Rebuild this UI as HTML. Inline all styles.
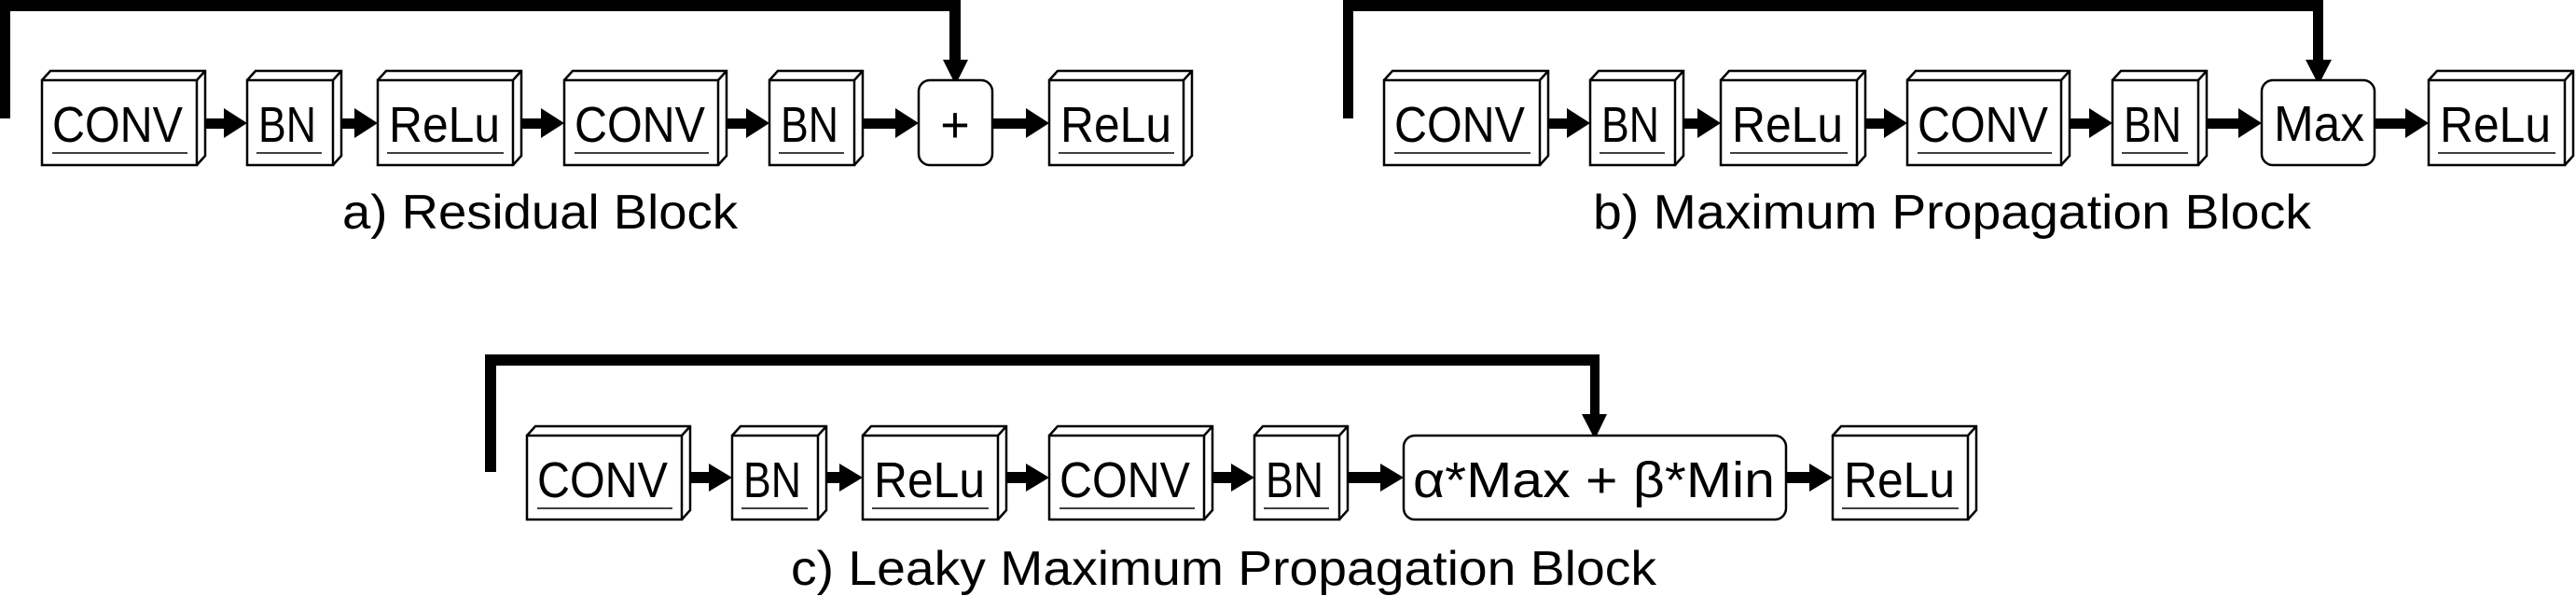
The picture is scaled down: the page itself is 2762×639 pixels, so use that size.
<!DOCTYPE html>
<html><head><meta charset="utf-8"><style>
html,body{margin:0;padding:0;background:#fff;}
svg{display:block;}
text{font-family:"Liberation Sans",sans-serif;fill:#000;}
</style></head><body>
<svg width="2762" height="639" viewBox="0 0 2762 639" xmlns="http://www.w3.org/2000/svg">
<defs>
<g id="none"></g>
</defs>
<g fill="#000">
<!-- skip a -->
<rect x="0" y="0" width="11" height="127"/>
<rect x="0" y="0" width="1030" height="12"/>
<rect x="1018" y="0" width="12" height="66"/>
<polygon points="1011,64 1038,64 1024.5,91"/>
<!-- skip b -->
<rect x="1440" y="0" width="11" height="127"/>
<rect x="1440" y="0" width="1051" height="12"/>
<rect x="2480" y="0" width="11" height="66"/>
<polygon points="2472,64 2500,64 2486,91"/>
<!-- skip c -->
<rect x="520" y="380" width="12" height="126"/>
<rect x="520" y="380" width="1195" height="12"/>
<rect x="1705" y="380" width="10" height="66"/>
<polygon points="1696,444 1723,444 1710,471"/>
</g>
<g fill="#000">
<!-- arrows row a, center 132 -->
<rect x="220" y="127" width="21" height="11"/><polygon points="240,116 265,132 240,148"/>
<rect x="366" y="127" width="15" height="11"/><polygon points="380,116 405,132 380,148"/>
<rect x="559" y="127" width="22" height="11"/><polygon points="580,116 605,132 580,148"/>
<rect x="779" y="127" width="22" height="11"/><polygon points="800,116 825,132 800,148"/>
<rect x="925" y="127" width="36" height="11"/><polygon points="960,116 985,132 960,148"/>
<rect x="1064" y="127" width="37" height="11"/><polygon points="1100,116 1125,132 1100,148"/>
<!-- row b -->
<rect x="1660" y="127" width="21" height="11"/><polygon points="1680,116 1705,132 1680,148"/>
<rect x="1805" y="127" width="16" height="11"/><polygon points="1820,116 1845,132 1820,148"/>
<rect x="2000" y="127" width="21" height="11"/><polygon points="2020,116 2045,132 2020,148"/>
<rect x="2219" y="127" width="22" height="11"/><polygon points="2240,116 2265,132 2240,148"/>
<rect x="2366" y="127" width="35" height="11"/><polygon points="2400,116 2425,132 2400,148"/>
<rect x="2546" y="127" width="34" height="11"/><polygon points="2579,116 2604,132 2579,148"/>
<!-- row c, center 512 -->
<rect x="740" y="506" width="21" height="12"/><polygon points="760,497 785,512 760,527"/>
<rect x="886" y="506" width="15" height="12"/><polygon points="900,497 925,512 900,527"/>
<rect x="1079" y="506" width="22" height="12"/><polygon points="1100,497 1125,512 1100,527"/>
<rect x="1300" y="506" width="21" height="12"/><polygon points="1320,497 1345,512 1320,527"/>
<rect x="1445" y="506" width="36" height="12"/><polygon points="1480,497 1505,512 1480,527"/>
<rect x="1915" y="506" width="26" height="12"/><polygon points="1940,497 1965,512 1940,527"/>
</g>
<g fill="#fff" stroke="#000" stroke-width="2.5" stroke-linejoin="miter">
<!-- row a boxes: y 86..177 -->
<path d="M45,86 L54,76 L220,76 L220,167 L211,177 M211,86 L220,76"/><rect x="45" y="86" width="166" height="91"/>
<path d="M265,86 L274,76 L366,76 L366,167 L357,177 M357,86 L366,76"/><rect x="265" y="86" width="92" height="91"/>
<path d="M405,86 L414,76 L559,76 L559,167 L550,177 M550,86 L559,76"/><rect x="405" y="86" width="145" height="91"/>
<path d="M605,86 L614,76 L779,76 L779,167 L770,177 M770,86 L779,76"/><rect x="605" y="86" width="165" height="91"/>
<path d="M825,86 L834,76 L925,76 L925,167 L916,177 M916,86 L925,76"/><rect x="825" y="86" width="91" height="91"/>
<rect x="985" y="86" width="79" height="91" rx="12"/>
<path d="M1125,86 L1134,76 L1278,76 L1278,167 L1269,177 M1269,86 L1278,76"/><rect x="1125" y="86" width="144" height="91"/>
<!-- row b -->
<path d="M1484,86 L1493,76 L1660,76 L1660,167 L1651,177 M1651,86 L1660,76"/><rect x="1484" y="86" width="167" height="91"/>
<path d="M1705,86 L1714,76 L1805,76 L1805,167 L1796,177 M1796,86 L1805,76"/><rect x="1705" y="86" width="91" height="91"/>
<path d="M1845,86 L1854,76 L2000,76 L2000,167 L1991,177 M1991,86 L2000,76"/><rect x="1845" y="86" width="146" height="91"/>
<path d="M2045,86 L2054,76 L2219,76 L2219,167 L2210,177 M2210,86 L2219,76"/><rect x="2045" y="86" width="165" height="91"/>
<path d="M2265,86 L2274,76 L2366,76 L2366,167 L2357,177 M2357,86 L2366,76"/><rect x="2265" y="86" width="92" height="91"/>
<rect x="2425" y="86" width="121" height="91" rx="12"/>
<path d="M2604,86 L2613,76 L2759,76 L2759,167 L2750,177 M2750,86 L2759,76"/><rect x="2604" y="86" width="146" height="91"/>
<!-- row c: y 467..557 -->
<path d="M565,467 L574,457 L740,457 L740,547 L731,557 M731,467 L740,457"/><rect x="565" y="467" width="166" height="90"/>
<path d="M785,467 L794,457 L886,457 L886,547 L877,557 M877,467 L886,457"/><rect x="785" y="467" width="92" height="90"/>
<path d="M925,467 L934,457 L1079,457 L1079,547 L1070,557 M1070,467 L1079,457"/><rect x="925" y="467" width="145" height="90"/>
<path d="M1125,467 L1134,457 L1300,457 L1300,547 L1291,557 M1291,467 L1300,457"/><rect x="1125" y="467" width="166" height="90"/>
<path d="M1345,467 L1354,457 L1445,457 L1445,547 L1436,557 M1436,467 L1445,457"/><rect x="1345" y="467" width="91" height="90"/>
<rect x="1505" y="467" width="410" height="90" rx="12"/>
<path d="M1965,467 L1974,457 L2119,457 L2119,547 L2110,557 M2110,467 L2119,457"/><rect x="1965" y="467" width="145" height="90"/>
</g>
<g stroke="#000" stroke-width="1.5">
<line x1="56" y1="164" x2="201" y2="164"/><line x1="275" y1="164" x2="345" y2="164"/><line x1="415" y1="164" x2="540" y2="164"/>
<line x1="616" y1="164" x2="760" y2="164"/><line x1="835" y1="164" x2="905" y2="164"/><line x1="1135" y1="164" x2="1259" y2="164"/>
<line x1="1495" y1="164" x2="1641" y2="164"/><line x1="1715" y1="164" x2="1785" y2="164"/><line x1="1855" y1="164" x2="1981" y2="164"/>
<line x1="2056" y1="164" x2="2200" y2="164"/><line x1="2275" y1="164" x2="2346" y2="164"/><line x1="2614" y1="164" x2="2740" y2="164"/>
<line x1="576" y1="545" x2="721" y2="545"/><line x1="795" y1="545" x2="866" y2="545"/><line x1="935" y1="545" x2="1060" y2="545"/>
<line x1="1136" y1="545" x2="1281" y2="545"/><line x1="1355" y1="545" x2="1425" y2="545"/><line x1="1975" y1="545" x2="2100" y2="545"/>
</g>
<g font-size="54" lengthAdjust="spacingAndGlyphs">
<text x="56" y="152" textLength="140" lengthAdjust="spacingAndGlyphs">CONV</text>
<text x="277" y="152" textLength="62" lengthAdjust="spacingAndGlyphs">BN</text>
<text x="417" y="152" textLength="119" lengthAdjust="spacingAndGlyphs">ReLu</text>
<text x="616" y="152" textLength="140" lengthAdjust="spacingAndGlyphs">CONV</text>
<text x="837" y="152" textLength="62" lengthAdjust="spacingAndGlyphs">BN</text>
<text x="1024" y="152" text-anchor="middle">+</text>
<text x="1137" y="152" textLength="119" lengthAdjust="spacingAndGlyphs">ReLu</text>
<text x="1495" y="152" textLength="140" lengthAdjust="spacingAndGlyphs">CONV</text>
<text x="1717" y="152" textLength="62" lengthAdjust="spacingAndGlyphs">BN</text>
<text x="1857" y="152" textLength="119" lengthAdjust="spacingAndGlyphs">ReLu</text>
<text x="2056" y="152" textLength="140" lengthAdjust="spacingAndGlyphs">CONV</text>
<text x="2277" y="152" textLength="62" lengthAdjust="spacingAndGlyphs">BN</text>
<text x="2438" y="151" textLength="97" lengthAdjust="spacingAndGlyphs">Max</text>
<text x="2616" y="152" textLength="119" lengthAdjust="spacingAndGlyphs">ReLu</text>
<text x="576" y="533" textLength="140" lengthAdjust="spacingAndGlyphs">CONV</text>
<text x="797" y="533" textLength="62" lengthAdjust="spacingAndGlyphs">BN</text>
<text x="937" y="533" textLength="119" lengthAdjust="spacingAndGlyphs">ReLu</text>
<text x="1136" y="533" textLength="140" lengthAdjust="spacingAndGlyphs">CONV</text>
<text x="1357" y="533" textLength="62" lengthAdjust="spacingAndGlyphs">BN</text>
<text x="1515" y="533" textLength="388" lengthAdjust="spacingAndGlyphs">α*Max + β*Min</text>
<text x="1977" y="533" textLength="119" lengthAdjust="spacingAndGlyphs">ReLu</text>
</g>
<g font-size="52">
<text x="367" y="245" textLength="424" lengthAdjust="spacingAndGlyphs">a) Residual Block</text>
<text x="1708" y="245" textLength="770" lengthAdjust="spacingAndGlyphs">b) Maximum Propagation Block</text>
<text x="848" y="627" textLength="928" lengthAdjust="spacingAndGlyphs">c) Leaky Maximum Propagation Block</text>
</g>
</svg>
</body></html>
